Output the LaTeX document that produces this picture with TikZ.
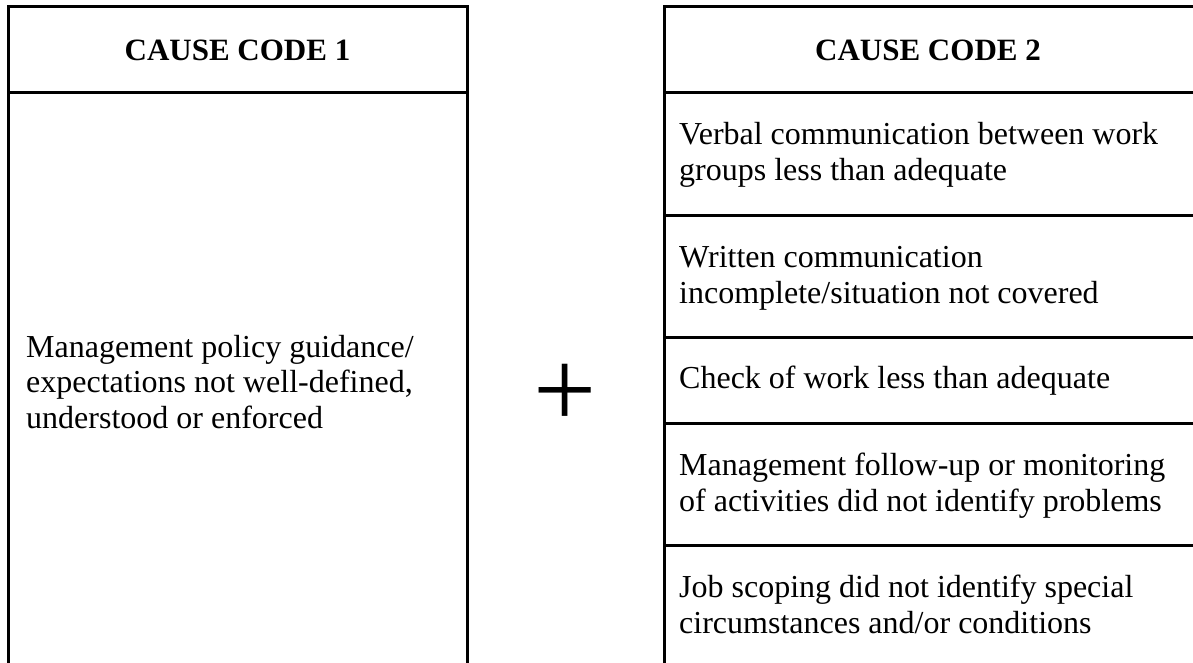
\documentclass[tikz,border=0pt]{standalone}
\usepackage{fontspec}
\setmainfont{Liberation Serif}
\begin{document}
\begin{tikzpicture}[x=1pt,y=-1pt,
  frame/.style={line width=3pt,line cap=rect},
  head/.style={inner sep=0pt,anchor=base,font=\fontsize{31}{36}\selectfont\bfseries},
  body/.style={inner sep=0pt,anchor=base west,align=left,font=\fontsize{32}{36}\selectfont},
  plusmark/.style={inner sep=0pt,anchor=base,font=\fontsize{112}{112}\selectfont}]
\useasboundingbox (0,0) rectangle (1193,663);
% left box
\coordinate (l1) at (8,670);
\coordinate (l2) at (8,7);
\coordinate (l3) at (467,7);
\coordinate (l4) at (467,670);
\draw[frame] (l1) -- (l2) -- (l3) -- (l4);
\coordinate (lh1) at (8,93);
\coordinate (lh2) at (467,93);
\draw[frame] (lh1) -- (lh2);
% right box
\coordinate (r1) at (664,670);
\coordinate (r2) at (664,7);
\coordinate (r3) at (1200,7);
\draw[frame] (r1) -- (r2) -- (r3);
\foreach \yy/\nm in {93/a,215/b,337/c,423/d,545/e}{
  \coordinate (rs\nm) at (664,\yy);
  \coordinate (re\nm) at (1200,\yy);
  \draw[frame] (rs\nm) -- (re\nm);
}
% headers
\node[head] (h1) at (237.5,61) {CAUSE CODE 1};
\node[head] (h2) at (928,61) {CAUSE CODE 2};
% left body
\node[body] (m1) at (26,357) {Management policy guidance/};
\node[body] (m2) at (26,392.5) {expectations not well-defined,};
\node[body] (m3) at (26,428) {understood or enforced};
% plus
\node[plusmark] (plus) at (565,427) {+};
% right body
\node[body] (v1) at (679,145) {Verbal communication between work};
\node[body] (v2) at (679,181) {groups less than adequate};
\node[body] (w1) at (679,267) {Written communication};
\node[body] (w2) at (679,303) {incomplete/situation not covered};
\node[body] (c1) at (679,388) {Check of work less than adequate};
\node[body] (f1) at (679,475) {Management follow-up or monitoring};
\node[body] (f2) at (679,511) {of activities did not identify problems};
\node[body] (j1) at (679,597) {Job scoping did not identify special};
\node[body] (j2) at (679,633) {circumstances and/or conditions};
\end{tikzpicture}
\end{document}
